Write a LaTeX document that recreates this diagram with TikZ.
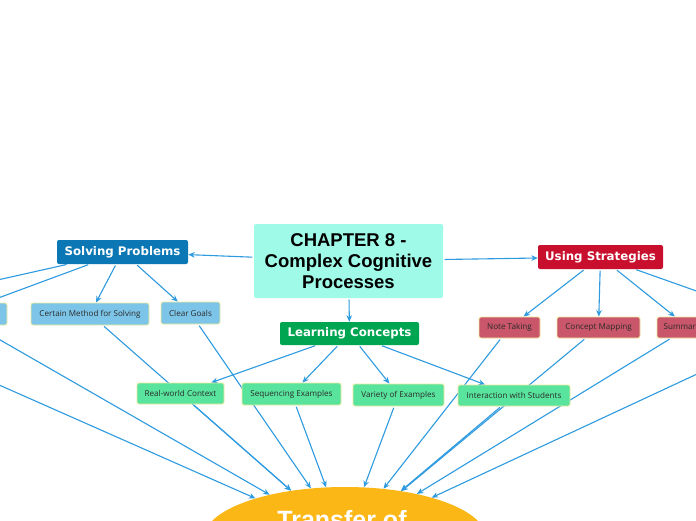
\documentclass[tikz,border=0pt]{standalone}
\usepackage{fontspec}
\setmainfont{Liberation Sans}
\newfontfamily\branchfont{DejaVu Sans}
\newfontfamily\leaffont{Open Sans}
\usetikzlibrary{arrows.meta,shapes.geometric,backgrounds}
\definecolor{linec}{HTML}{2E9BE0}
\definecolor{centralc}{HTML}{A0FAE8}
\definecolor{solvc}{HTML}{0B77B5}
\definecolor{usec}{HTML}{C8102E}
\definecolor{learnc}{HTML}{00A551}
\definecolor{leafblue}{HTML}{7DC5E8}
\definecolor{leafred}{HTML}{C9566A}
\definecolor{leafgreen}{HTML}{58E49D}
\definecolor{leafborder}{HTML}{EDEB9E}
\definecolor{leaftext}{HTML}{2A2A2A}
\definecolor{transc}{HTML}{FBB716}
\begin{document}
\begin{tikzpicture}[x=1pt,y=-1pt,
  box/.style={rounded corners=2pt, inner sep=0pt, align=center},
  central/.style={box, fill=centralc, minimum width=189pt, minimum height=74pt,
    font=\fontsize{18.5}{21}\selectfont\bfseries},
  branch/.style={box, text=white, minimum height=24pt,
    font=\branchfont\bfseries\fontsize{11.8}{14}\selectfont},
  leaf/.style={box, draw=leafborder, line width=0.8pt, text=leaftext, minimum height=21pt,
    font=\leaffont\fontsize{8.1}{10}\selectfont},
  bleaf/.style={leaf, fill=leafblue},
  rleaf/.style={leaf, fill=leafred},
  gleaf/.style={leaf, fill=leafgreen},
  conn/.style={draw=linec, line width=1.1pt, -{Stealth[length=6.5pt,width=5.5pt]}, shorten <=1.5pt}
]
\useasboundingbox (0,0) rectangle (696,520);
\clip (0,0) rectangle (696,520);

% central and branches
\node[central] (C) at (348.5,261) {CHAPTER 8 -\\Complex Cognitive\\Processes};
\node[branch, fill=solvc, minimum width=131pt] (SP) at (122.5,252) {Solving Problems};
\node[branch, fill=usec, minimum width=125pt] (US) at (600.5,257) {Using Strategies};
\node[branch, fill=learnc, minimum width=139pt, minimum height=23pt] (LC) at (349.5,333.5) {Learning Concepts};

% solving leaves
\node[bleaf, minimum width=100pt, minimum height=22pt] (FL) at (-159,315) {};
\node[bleaf, minimum width=104pt, minimum height=22pt] (HL) at (-45,314) {};
\node[bleaf, minimum width=118pt, minimum height=22pt] (CM) at (90,314) {Certain Method for Solving};
\node[bleaf, minimum width=59pt, minimum height=22pt] (CG) at (190.5,313) {Clear Goals};

% strategy leaves
\node[rleaf, minimum width=61pt] (NT) at (509.5,327.5) {Note Taking};
\node[rleaf, minimum width=83pt] (CP) at (598.5,327.5) {Concept Mapping};
\node[rleaf, minimum width=63pt] (SU) at (688.5,327.5) {Summarizing};
\node[rleaf, minimum width=100pt] (FR) at (798,327) {};

% concept leaves
\node[gleaf, minimum width=87pt] (RW) at (180.5,393.5) {Real-world Context};
\node[gleaf, minimum width=99pt, minimum height=22pt] (SE) at (291.5,394) {Sequencing Examples};
\node[gleaf, minimum width=91pt, minimum height=22pt] (VE) at (398.5,395) {Variety of Examples};
\node[gleaf, minimum width=112pt] (IS) at (514,395.5) {Interaction with Students};

% transfer
\node[ellipse, fill=transc, inner sep=0pt, minimum width=282pt, minimum height=102pt] (T) at (345,538) {};
\node[anchor=base, text=white, font=\fontsize{25}{30}\selectfont\bfseries, inner sep=0pt] (TT) at (342,528.6) {Transfer of};

\begin{pgfonlayer}{background}
  \fill[white] (0,0) rectangle (696,520);
  \clip (0,0) rectangle (696,520);
  \draw[conn] (C) -- (SP);
  \draw[conn] (C) -- (US);
  \draw[conn] (C) -- (LC);
  \foreach \t in {FL,HL,CM,CG} \draw[conn] (SP) -- (\t);
  \foreach \t in {NT,CP,SU,FR} \draw[conn] (US) -- (\t);
  \foreach \t in {RW,SE,VE,IS} \draw[conn] (LC) -- (\t);
  \foreach \s in {FL,HL,CM,CG,RW,SE,VE,IS,NT,CP,SU,FR} \draw[conn] (\s) -- (T);
\end{pgfonlayer}
\end{tikzpicture}
\end{document}
